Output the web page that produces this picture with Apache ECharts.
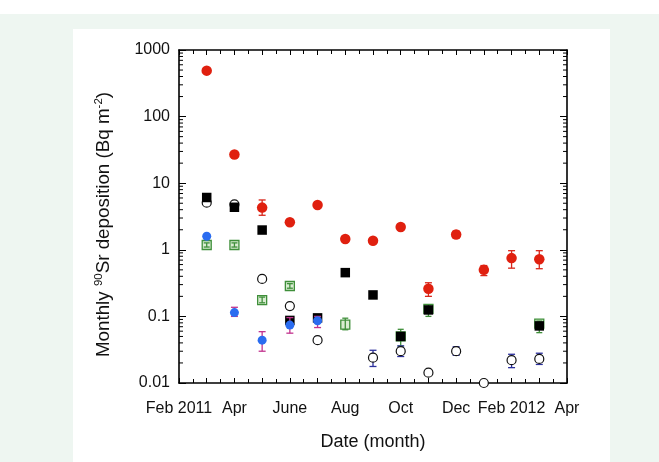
<!DOCTYPE html>
<html><head><meta charset="utf-8">
<script src="https://cdn.jsdelivr.net/npm/echarts@6/dist/echarts.min.js"></script>
<style>html,body{margin:0;padding:0;background:#fff}#c{width:659px;height:462px}</style>
</head><body><div id="c"></div>
<script>
// month index: 0 = Feb 2011 ... 14 = Apr 2012
const months = [1,2,3,4,5,6,7,8,9,10,11,12,13];
const xTickLabels = {0:'Feb 2011',2:'Apr',4:'June',6:'Aug',8:'Oct',10:'Dec',12:'Feb 2012',14:'Apr'};
const yTickLabels = ['0.01','0.1','1','10','100','1000'];

const redVal = [490, 27, 4.3, 2.6, 4.7, 1.45, 1.37, 2.2, 0.26, 1.7, 0.50, 0.75, 0.72];
const redLo  = [null, null, 3.3, null, null, null, null, null, 0.20, 1.5, 0.41, 0.53, 0.52];
const redHi  = [null, null, 5.6, null, null, null, null, null, 0.32, 1.9, 0.58, 0.97, 0.97];

const blackVal = [6.1, 4.35, 1.98, 0.087, 0.095, 0.454, 0.21, 0.05, 0.125, null, null, null, 0.072];

const circleVal = [5.1, 4.8, 0.365, 0.143, 0.044, null, 0.024, 0.030, 0.0143, 0.030, 0.01, 0.022, 0.023];
const circleLo  = [null, null, null, null, 0.040, null, 0.0177, 0.025, null, 0.026, null, 0.017, 0.019];
const circleHi  = [null, null, null, null, 0.049, null, 0.031, 0.036, null, 0.035, 0.0108, 0.027, 0.028];

const blueVal = [1.6, 0.114, 0.044, 0.074, 0.086, null, null, null, null, null, null, null, null];
const blueLo  = [null, 0.100, 0.030, 0.056, 0.068, null, null, null, null, null, null, null, null];
const blueHi  = [null, 0.137, 0.059, 0.096, 0.100, null, null, null, null, null, null, null, null];

const greenVal = [1.18, 1.18, 0.176, 0.286, null, 0.075, null, 0.05, 0.13, null, null, null, 0.078];
const greenLo  = [1.10, 1.10, 0.160, 0.265, null, 0.063, null, 0.036, 0.10, null, null, null, 0.057];
const greenHi  = [1.27, 1.27, 0.195, 0.310, null, 0.094, null, 0.064, 0.15, null, null, null, 0.085];

function pts(vals){ const o=[]; vals.forEach((v,i)=>{ if(v!=null) o.push([months[i], v]); }); return o; }
function errs(lo, hi, vals){ const o=[]; hi.forEach((h,i)=>{ if(h!=null){ const l = lo[i]!=null?lo[i]:vals[i]; o.push([months[i], l, h]); } }); return o; }

function errRender(color, cap){
  return function(params, api){
    const x = api.value(0);
    const p1 = api.coord([x, api.value(1)]);
    const p2 = api.coord([x, api.value(2)]);
    const s = {stroke: color, lineWidth: 1.3};
    return {type:'group', children:[
      {type:'line', shape:{x1:p1[0],y1:p1[1],x2:p2[0],y2:p2[1]}, style:s},
      {type:'line', shape:{x1:p1[0]-cap,y1:p1[1],x2:p1[0]+cap,y2:p1[1]}, style:s},
      {type:'line', shape:{x1:p2[0]-cap,y1:p2[1],x2:p2[0]+cap,y2:p2[1]}, style:s}
    ]};
  };
}

// log-axis minor tick values (2..9 per decade)
const minorVals = [];
[0.01,0.1,1,10,100].forEach(d=>{ for(let k=2;k<=9;k++) minorVals.push([0, d*k]); });

const font = 'Liberation Sans, Arial, sans-serif';
const chart = echarts.init(document.getElementById('c'), null, {renderer:'canvas'});

const option = {
  animation:false,
  backgroundColor:'#ffffff',
  graphic:[
    {type:'rect', z:-100, silent:true, shape:{x:0,y:14,width:659,height:448}, style:{fill:'#eef6f1'}},
    {type:'rect', z:-99, silent:true, shape:{x:73,y:29,width:537,height:433}, style:{fill:'#ffffff'}}
  ],
  grid:{left:179, right:92, top:50, height:333, containLabel:false},
  xAxis:[{
    type:'value', min:0, max:14, interval:1, position:'bottom',
    axisLine:{show:true, onZero:false, lineStyle:{color:'#000', width:1.6}},
    axisTick:{show:true, inside:true, length:5, lineStyle:{color:'#000', width:1}},
    minorTick:{show:true, splitNumber:2, length:4, lineStyle:{color:'#000', width:1}},
    splitLine:{show:false},
    axisLabel:{margin:18, color:'#111', fontSize:16, fontFamily:font,
      formatter:v=> xTickLabels[Math.round(v)] !== undefined && Math.abs(v-Math.round(v))<1e-6 ? xTickLabels[Math.round(v)] : ''},
    name:'Date (month)', nameLocation:'middle', nameGap:50,
    nameTextStyle:{fontSize:18, color:'#111', fontFamily:font}
  },{
    type:'value', min:0, max:14, interval:1, position:'top',
    axisLine:{show:true, onZero:false, lineStyle:{color:'#000', width:1.6}},
    axisTick:{show:true, inside:true, length:5, lineStyle:{color:'#000', width:1}},
    minorTick:{show:true, splitNumber:2, length:4, lineStyle:{color:'#000', width:1}},
    splitLine:{show:false}, axisLabel:{show:false}
  }],
  yAxis:[{
    type:'log', logBase:10, min:0.01, max:1000, position:'left',
    axisLine:{show:true, onZero:false, lineStyle:{color:'#000', width:1.6}},
    axisTick:{show:true, inside:true, length:7, lineStyle:{color:'#000', width:1}},
    splitLine:{show:false},
    axisLabel:{margin:9, color:'#111', fontSize:16, fontFamily:font,
      formatter:v=> yTickLabels[Math.round(Math.log10(v))+2]},
    name:'Monthly {sup|90}Sr deposition (Bq m{sup|-2})', nameLocation:'middle', nameGap:64, nameRotate:90,
    nameTextStyle:{fontSize:18.8, color:'#111', fontFamily:font, lineHeight:22, padding:[0,16,0,0],
      rich:{sup:{fontSize:11.5, fontFamily:font, color:'#111', verticalAlign:'top'}}}
  },{
    type:'log', logBase:10, min:0.01, max:1000, position:'right',
    axisLine:{show:true, onZero:false, lineStyle:{color:'#000', width:1.6}},
    axisTick:{show:true, inside:true, length:7, lineStyle:{color:'#000', width:1}},
    splitLine:{show:false}, axisLabel:{show:false}
  }],
  series:[
    {type:'custom', name:'minorTicks', silent:true, z:1, clip:false,
     encode:{x:0,y:1}, data:minorVals,
     renderItem:function(params, api){
       const y = api.coord([0, api.value(1)])[1];
       const cs = params.coordSys;
       const s = {stroke:'#000', lineWidth:1};
       return {type:'group', children:[
         {type:'line', shape:{x1:cs.x, y1:y, x2:cs.x+4, y2:y}, style:s},
         {type:'line', shape:{x1:cs.x+cs.width-4, y1:y, x2:cs.x+cs.width, y2:y}, style:s}
       ]};
     }},
    {type:'scatter', name:'green', z:2, clip:false, data:pts(greenVal), symbol:'rect', symbolSize:9,
     itemStyle:{color:'#d9ecd2', borderColor:'#3f8f3a', borderWidth:1.3, opacity:1}},
    {type:'custom', name:'greenErr', z:3, clip:false, encode:{x:0,y:[1,2]}, data:errs(greenLo, greenHi, greenVal), renderItem:errRender('#3f8f3a', 3)},
    {type:'custom', name:'circleErr', z:3, clip:false, encode:{x:0,y:[1,2]}, data:errs(circleLo, circleHi, circleVal), renderItem:errRender('#2b2f9c', 3.5)},
    {type:'scatter', name:'circle', z:4, clip:false, data:pts(circleVal), symbol:'circle', symbolSize:9,
     itemStyle:{color:'#ffffff', borderColor:'#111', borderWidth:1.2, opacity:1}},
    {type:'scatter', name:'black', z:5, clip:false, data:pts(blackVal), symbol:'rect', symbolSize:9.5,
     itemStyle:{color:'#000000', opacity:1}},
    {type:'custom', name:'blueErr', z:6, clip:false, encode:{x:0,y:[1,2]}, data:errs(blueLo, blueHi, blueVal), renderItem:errRender('#c2338e', 3.5)},
    {type:'scatter', name:'blue', z:7, clip:false, data:pts(blueVal), symbol:'circle', symbolSize:9,
     itemStyle:{color:'#2a6cf0', opacity:1}},
    {type:'custom', name:'redErr', z:8, clip:false, encode:{x:0,y:[1,2]}, data:errs(redLo, redHi, redVal), renderItem:errRender('#d8261a', 3.5)},
    {type:'scatter', name:'red', z:9, clip:false, data:pts(redVal), symbol:'circle', symbolSize:10.5,
     itemStyle:{color:'#e0200f', opacity:1}}
  ]
};
chart.setOption(option);
</script>
</body></html>
